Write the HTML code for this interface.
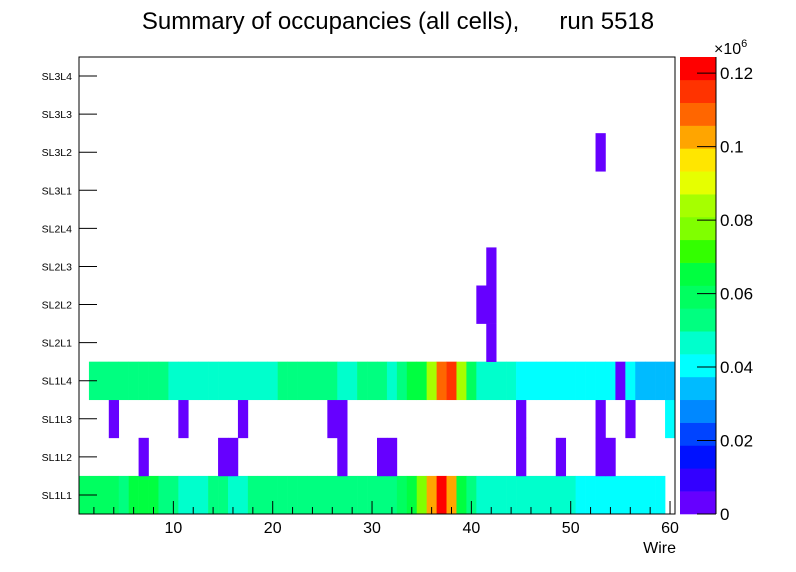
<!DOCTYPE html>
<html><head><meta charset="utf-8"><style>
body{margin:0;background:#fff;}
svg{display:block;font-family:"Liberation Sans",sans-serif;}
</style></head><body>
<svg id="c" width="796" height="572"></svg>
<script>
const rowLabels=["SL1L1","SL1L2","SL1L3","SL1L4","SL2L1","SL2L2","SL2L3","SL2L4","SL3L1","SL3L2","SL3L3","SL3L4"];
const xTicks=[10,20,30,40,50,60];
const zTicks=[0,0.02,0.04,0.06,0.08,0.1,0.12];
const zMax=124400;
const palette=["#6600ff","#3300ff","#0011ff","#0044ff","#0088ff","#00bbff","#00ffff","#00ffcc","#00ff80","#00ff60","#00ff40","#33ff00","#80ff00","#a6ff00","#e6ff00","#ffe600","#ffa500","#ff6600","#ff3300","#ff0000"];
const L=6220;
function v(level){return (level-0.5)*L;}
const cells=[];
function addRange(r,a,b,lvl){for(let w=a;w<=b;w++)cells.push([r,w,v(lvl)]);}
addRange(0,1,4,10);addRange(0,5,5,9);addRange(0,6,8,11);addRange(0,9,10,9);addRange(0,11,13,8);
addRange(0,14,15,9);addRange(0,16,17,8);addRange(0,18,32,9);addRange(0,33,33,10);addRange(0,34,34,11);
addRange(0,35,35,13);addRange(0,36,36,17);addRange(0,37,37,20);addRange(0,38,38,17);addRange(0,39,39,11);
addRange(0,40,40,9);addRange(0,41,50,8);addRange(0,51,59,7);
addRange(1,7,7,1);addRange(1,15,16,1);addRange(1,27,27,1);addRange(1,31,32,1);addRange(1,45,45,1);addRange(1,49,49,1);addRange(1,53,54,1);
addRange(2,4,4,1);addRange(2,11,11,1);addRange(2,17,17,1);addRange(2,26,27,1);addRange(2,45,45,1);addRange(2,53,53,1);addRange(2,56,56,1);addRange(2,60,60,7);
addRange(3,2,9,9);addRange(3,10,20,8);addRange(3,21,26,9);addRange(3,27,28,8);addRange(3,29,31,9);addRange(3,32,32,8);
addRange(3,33,33,9);addRange(3,34,35,11);addRange(3,36,36,14);addRange(3,37,37,18);addRange(3,38,38,19);addRange(3,39,39,14);
addRange(3,40,40,10);addRange(3,41,44,8);addRange(3,45,54,7);addRange(3,55,55,1);addRange(3,56,56,7);addRange(3,57,60,6);
addRange(4,42,42,1);addRange(5,41,42,1);addRange(6,42,42,1);addRange(9,53,53,1);

const X0=79,X1=675,Y0=57,Y1=514;
const xMin=0.5,xMax=60.5;
const sx=w=>X0+(w-xMin)/(xMax-xMin)*(X1-X0);
const rowH=(Y1-Y0)/rowLabels.length;
const sy=r=>Y1-(r+1)*rowH;
const CB0=680,CB1=716;
const sz=z=>Y1-z/zMax*(Y1-Y0);
const NS="http://www.w3.org/2000/svg";
const svg=document.getElementById('c');
function el(t,a,p){const e=document.createElementNS(NS,t);for(const k in a)e.setAttribute(k,a[k]);(p||svg).appendChild(e);return e;}
function colorFor(z){let i=Math.floor(z/zMax*palette.length);return palette[Math.max(0,Math.min(palette.length-1,i))];}

const g=el('g',{});
cells.forEach(c=>{
  const r=el('rect',{x:sx(c[1]-0.5),y:sy(c[0]),width:sx(c[1]+0.5)-sx(c[1]-0.5)+0.3,height:rowH+0.3,fill:colorFor(c[2])},g);
  
  
});
const fr=el('rect',{x:X0,y:Y0,width:X1-X0,height:Y1-Y0,fill:'none',stroke:'#000','stroke-width':1});

rowLabels.forEach((lab,i)=>{
  const yc=sy(i)+rowH/2;
  el('line',{x1:X0,x2:X0+18,y1:yc,y2:yc,stroke:'#000'});
  const t=el('text',{x:72,y:yc+4,'font-size':10.5,'text-anchor':'end'});t.textContent=lab;
  
});
for(let w=2;w<=60;w+=2){
  const x=sx(w);const major=w%10===0;
  el('line',{x1:x,x2:x,y1:Y1,y2:Y1-(major?13:7),stroke:'#000'});
}
xTicks.forEach(w=>{
  const t=el('text',{x:sx(w),y:533,'font-size':16,'text-anchor':'middle'});t.textContent=w;
  
});
const xt=el('text',{x:676,y:553,'font-size':16,'text-anchor':'end'});xt.textContent='Wire';

const cg=el('g',{});
palette.forEach((c,i)=>{
  el('rect',{x:CB0,y:sz((i+1)*zMax/palette.length),width:CB1-CB0,height:(Y1-Y0)/palette.length+0.3,fill:c},cg);
});
el('line',{x1:CB1,x2:CB1,y1:Y0,y2:Y1,stroke:'#000'});
zTicks.forEach(z=>{
  const y=sz(z*1e6);
  el('line',{x1:CB1-19,x2:CB1,y1:y,y2:y,stroke:'#000'});
  const t=el('text',{x:720,y:y+6,'font-size':17});t.textContent=String(z);
  
});
const ex=el('text',{x:714,y:54,'font-size':16});ex.innerHTML='×10<tspan font-size="11" dy="-7">6</tspan>';

const ti=el('text',{x:398,y:29,'font-size':24,'text-anchor':'middle'});
ti.setAttribute('style','white-space:pre');
ti.textContent='Summary of occupancies (all cells),      run 5518';

</script>
</body></html>
